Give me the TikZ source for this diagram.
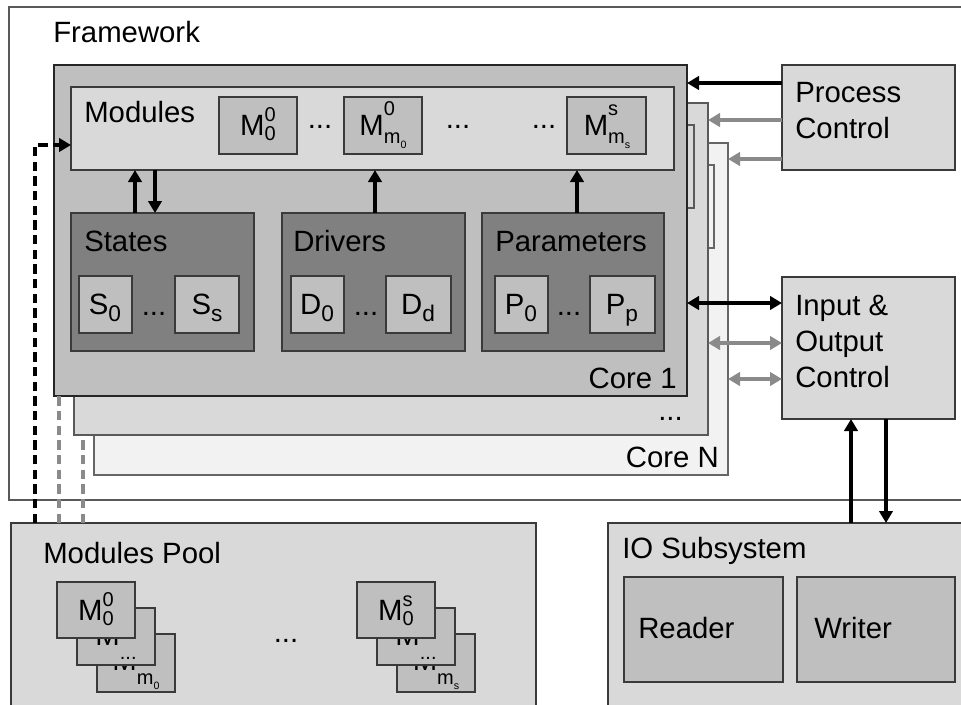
\documentclass[tikz,border=0pt]{standalone}
\usepackage{fontspec}
\setmainfont{Liberation Sans}
\usetikzlibrary{arrows.meta}
\definecolor{fillL}{HTML}{D9D9D9}
\definecolor{fillM}{HTML}{BFBFBF}
\definecolor{fillD}{HTML}{808080}
\definecolor{fillP}{HTML}{F2F2F2}
\definecolor{edge}{HTML}{3A3A3A}
\definecolor{greyink}{HTML}{8A8A8A}
\newcommand\bigf{\fontsize{22}{27}\selectfont}
\newcommand\supf{\fontsize{15}{15}\selectfont}
\newcommand\tinyf{\fontsize{8}{8}\selectfont}
% M with stacked super- and subscript
\newcommand\Mss[2]{M\rlap{\raisebox{0.45em}{\supf #1}}\raisebox{-0.2em}{\supf #2}}
% same, for a subscript that carries its own index
\newcommand\Mssm[2]{M\rlap{\raisebox{0.66em}{\supf #1}}\raisebox{-0.28em}{\supf #2}}
% M with subscript only
\newcommand\Msb[1]{M\raisebox{-0.5em}{\supf #1}}
% small m with a tiny index
\newcommand\mz[1]{m\raisebox{-0.25em}{\tinyf #1}}
% letter with a subscript
\newcommand\Xs[2]{#1\raisebox{-0.24em}{\fontsize{17}{17}\selectfont #2}}
% rectangle from (x1,y1) to (x2,y2) in pixel units
\newcommand\boxat[7][]{\node[blk,fill=#7,minimum width={(#5-#3)*0.75pt},minimum height={(#6-#4)*0.75pt},#1] (#2) at (#3,#4) {};}
\begin{document}
\begin{tikzpicture}[x=0.75pt,y=-0.75pt,
  blk/.style={draw=edge,line width=0.9pt,inner sep=0,outer sep=0,anchor=north west},
  txt/.style={inner sep=0,font=\bigf,anchor=base west},
  rtxt/.style={inner sep=0,font=\bigf,anchor=base east},
  ctxt/.style={inner sep=0,font=\bigf,anchor=base},
  tip/.style={arrows={-{Triangle[length=9pt,width=10pt]}}},
  tips/.style={arrows={{Triangle[length=9pt,width=10pt]}-{Triangle[length=9pt,width=10pt]}}},
  darkline/.style={draw=black,line width=2.4pt},
  greyline/.style={draw=greyink,line width=2.4pt},
  darkdash/.style={draw=black,line width=2.4pt,dash pattern=on 7pt off 4pt},
  greydash/.style={draw=greyink,line width=2.4pt,dash pattern=on 7pt off 4pt}]
\useasboundingbox (0,0) rectangle (961,704);

% framework
\boxat[draw=black!65,line width=0.8pt]{fw}{9}{7}{990}{500}{white}
\node[txt] (fwl) at (53,42) {Framework};

% stacked cores (back to front)
\boxat[draw=black!60]{coreN}{94}{143}{728}{475}{fillP}
\boxat[draw=black!60]{modN}{111}{165}{714}{248}{fillP}
\node[rtxt] (coreNl) at (719,467) {Core N};
\boxat[draw=black!65]{coreM}{74}{103}{708}{435}{fillL}
\boxat[draw=black!65]{modM}{91}{125}{694}{208}{fillL}
\node[rtxt] (coreMl) at (683,420) {...};
\boxat[draw=black!85,line width=1pt]{core}{54}{65}{687}{396}{fillM}
\node[rtxt] (corel) at (677,388) {Core 1};

% modules
\boxat{mods}{71}{87}{674}{170}{fillL}
\node[txt] (modsl) at (84,122) {Modules};
\boxat{ma}{219}{97}{297}{154}{fillM}
\boxat{mb}{344}{97}{422}{154}{fillM}
\boxat{mc}{567}{97}{646}{154}{fillM}
\node[ctxt] (mat) at (258,135) {\Mss{0}{0}};
\node[ctxt] (mbt) at (383,135) {\Mssm{0}{\mz{0}}};
\node[ctxt] (mct) at (607,135) {\Mssm{s}{\mz{s}}};
\node[ctxt] (md1) at (320,128) {...};
\node[ctxt] (md2) at (458,128) {...};
\node[ctxt] (md3) at (544,128) {...};

% states, drivers, parameters
\boxat{st}{71}{213}{254}{351}{fillD}
\boxat{dr}{282}{213}{465}{351}{fillD}
\boxat{pa}{482}{213}{664}{351}{fillD}
\node[txt] (stl) at (84,251) {States};
\node[txt] (drl) at (293,251) {Drivers};
\node[txt] (pal) at (495,251) {Parameters};
\boxat{s0}{79}{276}{132}{333}{fillM}
\boxat{ss}{175}{276}{239}{333}{fillM}
\boxat{d0}{291}{276}{344}{333}{fillM}
\boxat{dd}{386}{276}{451}{333}{fillM}
\boxat{p0}{495}{276}{548}{333}{fillM}
\boxat{pp}{590}{276}{655}{333}{fillM}
\node[ctxt] (s0t) at (105,314) {\Xs{S}{0}};
\node[ctxt] (sst) at (207,314) {\Xs{S}{s}};
\node[ctxt] (d0t) at (317,314) {\Xs{D}{0}};
\node[ctxt] (ddt) at (418,314) {\Xs{D}{d}};
\node[ctxt] (p0t) at (521,314) {\Xs{P}{0}};
\node[ctxt] (ppt) at (622,314) {\Xs{P}{p}};
\node[ctxt] (sd) at (154,315) {...};
\node[ctxt] (dd2) at (366,315) {...};
\node[ctxt] (pd) at (569,315) {...};

% links between the core parts
\coordinate (xs1) at (135,0);
\coordinate (xs2) at (155,0);
\coordinate (xd) at (375,0);
\coordinate (xp) at (577,0);
\draw[darkline,tip] (st.north -| xs1) -- (mods.south -| xs1);
\draw[darkline,tip] (mods.south -| xs2) -- (st.north -| xs2);
\draw[darkline,tip] (dr.north -| xd) -- (mods.south -| xd);
\draw[darkline,tip] (pa.north -| xp) -- (mods.south -| xp);

% process control
\boxat{pc}{782}{65}{955}{170}{fillL}
\node[txt,align=left] (pcl) at (795,138) {Process\\Control};
\coordinate (y1) at (0,83);
\coordinate (y2) at (0,120);
\coordinate (y3) at (0,159);
\draw[darkline,tip] (pc.west |- y1) -- (core.east |- y1);
\draw[greyline,tip] (pc.west |- y2) -- (coreM.east |- y2);
\draw[greyline,tip] (pc.west |- y3) -- (coreN.east |- y3);

% input and output control
\boxat{ioc}{782}{277}{955}{419}{fillL}
\node[txt,align=left] (iocl) at (795,387) {Input \&\\Output\\Control};
\coordinate (y4) at (0,303);
\coordinate (y5) at (0,343);
\coordinate (y6) at (0,379);
\draw[darkline,tips] (core.east |- y4) -- (ioc.west |- y4);
\draw[greyline,tips] (coreM.east |- y5) -- (ioc.west |- y5);
\draw[greyline,tips] (coreN.east |- y6) -- (ioc.west |- y6);

% IO subsystem
\boxat{ios}{608}{523}{990}{730}{fillL}
\node[txt] (iosl) at (622,558) {IO Subsystem};
\boxat{rd}{624}{577}{783}{682}{fillM}
\boxat{wr}{797}{577}{955}{682}{fillM}
\node[txt] (rdl) at (638,638) {Reader};
\node[txt] (wrl) at (814,638) {Writer};
\coordinate (xi1) at (851,0);
\coordinate (xi2) at (886,0);
\draw[darkline,tip] (ios.north -| xi1) -- (ioc.south -| xi1);
\draw[darkline,tip] (ioc.south -| xi2) -- (ios.north -| xi2);

% modules pool
\boxat{pool}{11}{523}{536}{730}{fillL}
\node[txt] (pooll) at (43,563) {Modules Pool};
\boxat{pa3}{97}{634}{175}{692}{fillM}
\node[ctxt] (pa3t) at (136,670) {\Msb{\mz{0}}};
\boxat{pa2}{77}{608}{155}{665}{fillM}
\node[ctxt] (pa2t) at (116,645) {\Msb{...}};
\boxat{pa1}{57}{582}{135}{638}{fillM}
\node[ctxt] (pa1t) at (96,620) {\Mss{0}{0}};
\boxat{pb3}{397}{634}{475}{692}{fillM}
\node[ctxt] (pb3t) at (436,670) {\Msb{\mz{s}}};
\boxat{pb2}{377}{608}{455}{665}{fillM}
\node[ctxt] (pb2t) at (416,645) {\Msb{...}};
\boxat{pb1}{357}{582}{435}{638}{fillM}
\node[ctxt] (pb1t) at (396,620) {\Mss{s}{0}};
\node[ctxt] (pdots) at (286,642) {...};

% module loading paths
\coordinate (kb) at (35,145);
\coordinate (kg1) at (59,0);
\coordinate (kg2) at (83,0);
\draw[darkdash,tip] (pool.north -| kb) |- (mods.west |- kb);
\draw[greydash] (pool.north -| kg1) -- (core.south -| kg1);
\draw[greydash] (pool.north -| kg2) -- (coreM.south -| kg2);
\end{tikzpicture}
\end{document}
